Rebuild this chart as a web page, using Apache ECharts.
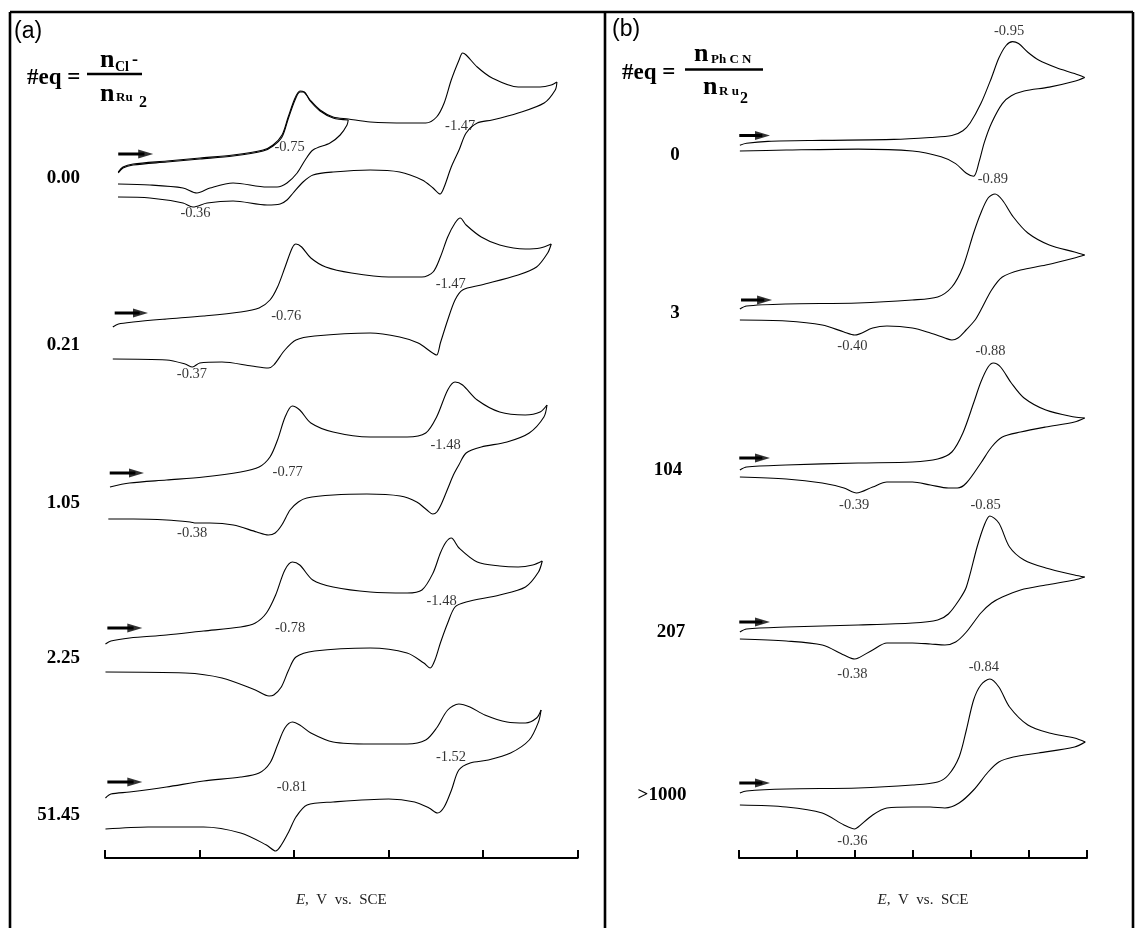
<!DOCTYPE html>
<html><head><meta charset="utf-8">
<script src="https://cdn.jsdelivr.net/npm/echarts@6/dist/echarts.min.js"></script>
<style>html,body{margin:0;padding:0;background:#fff}#c{width:1135px;height:928px}</style>
</head><body><div id="c"></div>
<script>
// ===== DATA: potential E (V vs. SCE), current i (a.u., cathodic up) =====
// Panel (a): Cl- equivalents
const a000_fwd = [[-0.056,0],[-0.076,5],[-0.119,8],[-0.262,11],[-0.402,14],[-0.542,17],[-0.669,22],[-0.711,27],[-0.749,37],[-0.775,55],[-0.804,74],[-0.825,81],[-0.842,80],[-0.868,72],[-0.910,62],[-0.965,55],[-1.029,53],[-1.122,50],[-1.278,49],[-1.357,49],[-1.403,55],[-1.435,69],[-1.465,92],[-1.498,112],[-1.513,119],[-1.528,117],[-1.575,105],[-1.638,94],[-1.748,85],[-1.841,85],[-1.888,87],[-1.912,90]];
const a000_rev = [[-1.912,90],[-1.905,82],[-1.858,69],[-1.748,59],[-1.638,52],[-1.575,49],[-1.528,39],[-1.498,22],[-1.465,5],[-1.435,-15],[-1.418,-22],[-1.388,-16],[-1.342,-8],[-1.247,0],[-1.122,2],[-0.965,0],[-0.880,-3],[-0.838,-10],[-0.796,-21],[-0.770,-28],[-0.741,-32],[-0.686,-33],[-0.542,-29],[-0.432,-31],[-0.372,-35],[-0.330,-31],[-0.190,-26],[-0.055,-25]];
const a000_fwd2 = [[-0.056,-1],[-0.076,4],[-0.119,7],[-0.262,10],[-0.402,13],[-0.542,16],[-0.669,21],[-0.711,26],[-0.749,35],[-0.775,53],[-0.804,72],[-0.825,80],[-0.842,80],[-0.868,71],[-0.910,61],[-0.965,54],[-1.029,52]];
const a000_rev2 = [[-1.029,52],[-1.024,47],[-0.995,37],[-0.952,29],[-0.880,22],[-0.847,12],[-0.813,-1],[-0.770,-11],[-0.728,-15],[-0.686,-15],[-0.542,-11],[-0.444,-16],[-0.389,-21],[-0.330,-16],[-0.190,-13],[-0.055,-12]];

const a021_fwd = [[-0.033,0],[-0.057,3],[-0.119,5],[-0.260,8],[-0.417,11],[-0.574,15],[-0.652,19],[-0.698,27],[-0.730,40],[-0.762,60],[-0.792,79],[-0.808,83],[-0.832,80],[-0.871,69],[-0.934,60],[-1.043,54],[-1.200,50],[-1.341,50],[-1.388,55],[-1.419,70],[-1.450,90],[-1.481,104],[-1.503,109],[-1.528,102],[-1.592,90],[-1.670,82],[-1.778,78],[-1.841,79],[-1.888,83]];
const a021_rev = [[-1.888,83],[-1.873,74],[-1.826,60],[-1.748,52],[-1.592,42],[-1.513,37],[-1.481,27],[-1.450,7],[-1.419,-16],[-1.403,-28],[-1.380,-25],[-1.325,-16],[-1.247,-10],[-1.122,-6],[-0.887,-9],[-0.808,-13],[-0.761,-23],[-0.714,-38],[-0.691,-41],[-0.621,-39],[-0.495,-35],[-0.401,-36],[-0.370,-40],[-0.339,-37],[-0.260,-33],[-0.033,-32]];

const a105_fwd = [[-0.021,0],[-0.104,4],[-0.260,7],[-0.417,10],[-0.574,15],[-0.652,20],[-0.698,30],[-0.730,47],[-0.762,70],[-0.792,81],[-0.824,77],[-0.871,64],[-0.965,55],[-1.122,50],[-1.278,50],[-1.357,54],[-1.403,70],[-1.450,97],[-1.481,105],[-1.513,102],[-1.575,87],[-1.670,75],[-1.778,72],[-1.841,75],[-1.870,82]];
const a105_rev = [[-1.870,82],[-1.857,70],[-1.795,54],[-1.701,45],[-1.592,40],[-1.528,34],[-1.497,22],[-1.474,12],[-1.453,0],[-1.425,-16],[-1.404,-25],[-1.387,-27],[-1.362,-23],[-1.319,-15],[-1.249,-9],[-1.108,-7],[-0.966,-8],[-0.854,-11],[-0.818,-15],[-0.783,-23],[-0.748,-38],[-0.720,-46],[-0.691,-48],[-0.642,-45],[-0.543,-38],[-0.444,-36],[-0.385,-36],[-0.360,-35],[-0.261,-33],[-0.120,-32],[-0.014,-32]];

const a225_fwd = [[-0.002,0],[-0.025,3],[-0.104,6],[-0.260,9],[-0.417,13],[-0.574,17],[-0.636,21],[-0.683,31],[-0.722,49],[-0.761,74],[-0.793,82],[-0.824,79],[-0.879,64],[-0.965,57],[-1.122,52],[-1.278,51],[-1.341,54],[-1.388,71],[-1.419,91],[-1.443,102],[-1.465,106],[-1.498,96],[-1.575,82],[-1.670,78],[-1.748,77],[-1.810,79],[-1.850,83]];
const a225_rev = [[-1.850,83],[-1.834,72],[-1.779,57],[-1.670,49],[-1.528,42],[-1.481,37],[-1.450,21],[-1.419,1],[-1.396,-16],[-1.376,-24],[-1.349,-19],[-1.278,-9],[-1.122,-4],[-0.887,-7],[-0.808,-13],[-0.777,-26],[-0.746,-43],[-0.714,-51],[-0.694,-52],[-0.636,-46],[-0.495,-34],[-0.339,-29],[-0.002,-28]];

const a5145_fwd = [[-0.002,0],[-0.025,4],[-0.104,6],[-0.260,11],[-0.417,17],[-0.574,21],[-0.652,25],[-0.698,35],[-0.730,53],[-0.761,70],[-0.793,76],[-0.824,73],[-0.871,65],[-0.965,56],[-1.122,54],[-1.278,54],[-1.357,58],[-1.403,70],[-1.450,88],[-1.497,94],[-1.544,91],[-1.607,83],[-1.701,76],[-1.779,75],[-1.826,80],[-1.845,88]];
const a5145_rev = [[-1.845,88],[-1.834,76],[-1.795,58],[-1.716,45],[-1.622,38],[-1.545,35],[-1.497,28],[-1.466,8],[-1.435,-9],[-1.407,-15],[-1.371,-10],[-1.310,-4],[-1.200,-1],[-0.965,-4],[-0.855,-7],[-0.808,-19],[-0.777,-34],[-0.746,-47],[-0.722,-53],[-0.683,-47],[-0.574,-35],[-0.417,-29],[-0.182,-29],[-0.002,-31]];

// Panel (b): PhCN equivalents
const b0_fwd = [[-0.003,0],[-0.026,2],[-0.100,4],[-0.286,5],[-0.534,6],[-0.659,8],[-0.734,10],[-0.772,15],[-0.797,23],[-0.834,43],[-0.871,70],[-0.896,90],[-0.921,103],[-0.943,107],[-0.964,105],[-0.996,96],[-1.033,88],[-1.095,80],[-1.157,74],[-1.192,70]];
const b0_rev = [[-1.192,70],[-1.157,66],[-1.070,60],[-0.983,56],[-0.939,51],[-0.908,43],[-0.871,23],[-0.846,3],[-0.828,-17],[-0.809,-32],[-0.784,-29],[-0.747,-19],[-0.697,-12],[-0.598,-6],[-0.411,-4],[-0.163,-5],[-0.003,-6]];

const b3_fwd = [[-0.003,0],[-0.026,3],[-0.162,5],[-0.410,6],[-0.597,9],[-0.685,12],[-0.734,22],[-0.772,42],[-0.809,76],[-0.834,96],[-0.859,111],[-0.883,115],[-0.908,109],[-0.946,92],[-0.996,76],[-1.070,64],[-1.157,57],[-1.192,54]];
const b3_rev = [[-1.192,54],[-1.157,51],[-1.058,44],[-0.971,39],[-0.908,32],[-0.871,19],[-0.834,-1],[-0.814,-11],[-0.783,-21],[-0.755,-29],[-0.734,-31],[-0.710,-29],[-0.660,-24],[-0.598,-19],[-0.510,-17],[-0.461,-19],[-0.399,-26],[-0.362,-23],[-0.287,-16],[-0.162,-12],[-0.003,-11]];

const b104_fwd = [[-0.003,0],[-0.026,3],[-0.162,5],[-0.411,7],[-0.598,8],[-0.685,11],[-0.734,18],[-0.772,37],[-0.809,67],[-0.834,88],[-0.859,103],[-0.877,107],[-0.902,103],[-0.939,87],[-0.983,72],[-1.058,60],[-1.157,53],[-1.192,52]];
const b104_rev = [[-1.192,52],[-1.157,48],[-1.058,43],[-0.971,38],[-0.908,33],[-0.871,23],[-0.834,7],[-0.784,-13],[-0.753,-18],[-0.722,-18],[-0.660,-15],[-0.598,-12],[-0.510,-12],[-0.461,-17],[-0.405,-23],[-0.362,-18],[-0.287,-13],[-0.163,-9],[-0.003,-7]];

const b207_fwd = [[-0.003,0],[-0.026,3],[-0.163,5],[-0.411,7],[-0.598,9],[-0.685,12],[-0.722,18],[-0.759,32],[-0.784,45],[-0.821,85],[-0.846,107],[-0.865,116],[-0.896,109],[-0.933,85],[-0.983,72],[-1.058,64],[-1.157,57],[-1.192,55]];
const b207_rev = [[-1.192,55],[-1.157,52],[-1.058,47],[-0.971,42],[-0.908,35],[-0.871,29],[-0.834,19],[-0.784,0],[-0.747,-10],[-0.710,-13],[-0.660,-12],[-0.598,-11],[-0.510,-11],[-0.461,-18],[-0.411,-26],[-0.399,-27],[-0.362,-23],[-0.287,-13],[-0.163,-9],[-0.003,-7]];

const b1000_fwd = [[-0.003,0],[-0.026,2],[-0.163,4],[-0.411,5],[-0.598,8],[-0.685,11],[-0.722,18],[-0.759,36],[-0.784,63],[-0.809,93],[-0.834,108],[-0.865,114],[-0.896,106],[-0.933,86],[-0.996,68],[-1.070,60],[-1.157,55],[-1.194,51]];
const b1000_rev = [[-1.194,51],[-1.157,46],[-1.033,40],[-0.946,36],[-0.896,31],[-0.859,21],[-0.809,3],[-0.759,-10],[-0.710,-15],[-0.660,-14],[-0.598,-14],[-0.510,-15],[-0.461,-22],[-0.411,-34],[-0.399,-36],[-0.362,-32],[-0.287,-20],[-0.163,-14],[-0.003,-12]];

// Peak-potential annotations [E, i, text]
const a000_lbl = [[-0.783,24,'-0.75'],[-1.505,45,'-1.47'],[-0.385,-42,'-0.36']];
const a021_lbl = [[-0.769,10,'-0.76'],[-1.465,42,'-1.47'],[-0.370,-48,'-0.37']];
const a105_lbl = [[-0.775,14,'-0.77'],[-1.443,41,'-1.48'],[-0.371,-47,'-0.38']];
const a225_lbl = [[-0.785,15,'-0.78'],[-1.426,42,'-1.48']];
const a5145_lbl = [[-0.793,10,'-0.81'],[-1.466,40,'-1.52']];
const b0_lbl = [[-0.933,117,'-0.95']];
const b3_lbl = [[-0.877,129,'-0.89'],[-0.393,-38,'-0.40']];
const b104_lbl = [[-0.869,118,'-0.88'],[-0.399,-36,'-0.39']];
const b207_lbl = [[-0.852,126,'-0.85'],[-0.393,-43,'-0.38']];
const b1000_lbl = [[-0.846,125,'-0.84'],[-0.393,-49,'-0.36']];

// Scan-direction arrows [E start, E tip, i]
const arrowsA = [[-0.056,-0.204,18],[-0.041,-0.182,14],[-0.020,-0.165,14],[-0.010,-0.158,16],[-0.010,-0.158,16]];
const arrowsB = [[-0.001,-0.107,10],[-0.007,-0.114,9],[-0.001,-0.107,12],[-0.001,-0.107,10],[-0.001,-0.107,10]];

// Equivalents (trace names)
const eqA = ['0.00','0.21','1.05','2.25','51.45'];
const eqB = ['0','3','104','207','>1000'];

// Axis ticks
const ticksA = {min:-2.0, max:0, interval:0.4};
const ticksB = {min:-1.2, max:0, interval:0.2};

// ===== LAYOUT =====
const YMIN = -70, YMAX = 150;
const panelA = {left:105, width:472.7, axisY:858};
const panelB = {left:739, width:348, axisY:858};
const baseA = [172, 327, 487, 644, 798];
const baseB = [143, 309, 470, 632, 793];
const nameYA = [178, 345, 503, 658, 815];
const nameXA = [80, 80, 80, 80, 80];
const nameYB = [155, 313, 470, 632, 795];
const nameXB = [675, 675, 668, 671, 662];

const SERIF = '"Liberation Serif","Times New Roman",serif';
const SANS = '"Liberation Sans",Arial,sans-serif';
const INK = '#000';
const HEAD = 'path://M0,0 L15,4.5 L0,9 Z';

const tracesA = [
  {lines:[a000_fwd2,a000_rev2,a000_fwd,a000_rev], lbl:a000_lbl},
  {lines:[a021_fwd,a021_rev], lbl:a021_lbl},
  {lines:[a105_fwd,a105_rev], lbl:a105_lbl},
  {lines:[a225_fwd,a225_rev], lbl:a225_lbl},
  {lines:[a5145_fwd,a5145_rev], lbl:a5145_lbl}
];
const tracesB = [
  {lines:[b0_fwd,b0_rev], lbl:b0_lbl},
  {lines:[b3_fwd,b3_rev], lbl:b3_lbl},
  {lines:[b104_fwd,b104_rev], lbl:b104_lbl},
  {lines:[b207_fwd,b207_rev], lbl:b207_lbl},
  {lines:[b1000_fwd,b1000_rev], lbl:b1000_lbl}
];

const grid = [], xAxis = [], yAxis = [], series = [];
function addTrace(tr, base, panel, ticks, arrow) {
  const k = grid.length;
  grid.push({left:panel.left, width:panel.width, top:base - YMAX, height:YMAX - YMIN});
  xAxis.push({type:'value', gridIndex:k, min:ticks.min, max:ticks.max, inverse:true, show:false});
  yAxis.push({type:'value', gridIndex:k, min:YMIN, max:YMAX, show:false});
  tr.lines.forEach(arr => {
    series.push({type:'line', xAxisIndex:k, yAxisIndex:k, data:arr, smooth:0.3, symbol:'none',
      lineStyle:{color:INK, width:1.1}, silent:true, animation:false, clip:false});
  });
  // arrow shaft + head
  series.push({type:'line', xAxisIndex:k, yAxisIndex:k, symbol:'none', silent:true, animation:false,
    data:[[arrow[0],arrow[2]],[arrow[0] + (arrow[1]-arrow[0])*0.75, arrow[2]]],
    lineStyle:{color:INK, width:3}});
  series.push({type:'scatter', xAxisIndex:k, yAxisIndex:k, silent:true, animation:false, clip:false,
    symbol:HEAD, symbolSize:[15,9], symbolOffset:[-7.5,0], itemStyle:{color:INK},
    data:[[arrow[1], arrow[2]]]});
  // peak labels
  series.push({type:'scatter', xAxisIndex:k, yAxisIndex:k, symbol:'circle', symbolSize:1,
    itemStyle:{color:'rgba(255,255,255,0)'}, silent:true, animation:false, clip:false,
    data: tr.lbl.map(l => ({value:[l[0], l[1]], name:l[2]})),
    label:{show:true, position:[0,0], align:'center', verticalAlign:'middle', formatter:'{b}',
      fontFamily:SERIF, fontSize:14.5, color:'#000', textBorderWidth:0}});
}
tracesA.forEach((tr, n) => addTrace(tr, baseA[n], panelA, ticksA, arrowsA[n]));
tracesB.forEach((tr, n) => addTrace(tr, baseB[n], panelB, ticksB, arrowsB[n]));

function addAxis(panel, ticks, padLeft) {
  const k = grid.length;
  grid.push({left:panel.left, width:panel.width, top:100, height:panel.axisY - 100});
  xAxis.push({type:'value', gridIndex:k, min:ticks.min, max:ticks.max, interval:ticks.interval, inverse:true,
    axisLine:{show:true, lineStyle:{color:INK, width:2}},
    axisTick:{show:true, inside:true, length:8, lineStyle:{color:INK, width:2}},
    axisLabel:{show:false}, splitLine:{show:false},
    name:'{i|E},  V  vs.  SCE', nameLocation:'middle', nameGap:35,
    nameTextStyle:{fontFamily:SERIF, fontSize:15, color:'#222', padding:[0,0,0,padLeft],
      rich:{i:{fontFamily:SERIF, fontSize:15, fontStyle:'italic', color:'#222'}}}});
  yAxis.push({type:'value', gridIndex:k, show:false});
}
addAxis(panelA, ticksA, 0);
addAxis(panelB, ticksB, 20);

const graphic = [];
function line(x1,y1,x2,y2,w){ graphic.push({type:'line', silent:true, shape:{x1,y1,x2,y2}, style:{stroke:INK, lineWidth:w}}); }
function text(t,x,y,font,align){ graphic.push({type:'text', silent:true, x, y, style:{text:t, font, fill:INK, align:align||'left', verticalAlign:'middle', textAlign:align||'left', textVerticalAlign:'middle'}}); }
// frame
line(10,12,1133,12,2.6); line(10,12,10,928,2.6); line(605,12,605,928,2.6); line(1133,12,1133,928,2.6);
// panel letters
text('(a)',14,32,'23px '+SANS); text('(b)',612,30,'23px '+SANS);
// fraction (a)
text('#eq =',27,78,'bold 23px '+SERIF);
line(87,74,142,74,2.4);
text('n',100,60,'bold 26px '+SERIF); text('Cl',115,67,'bold 14px '+SERIF); text('-',132,60,'bold 18px '+SERIF);
text('n',100,94,'bold 26px '+SERIF); text('Ru',116,98,'bold 13px '+SERIF); text('2',139,103,'bold 16px '+SERIF);
// fraction (b)
text('#eq =',622,73,'bold 23px '+SERIF);
line(685,69.5,763,69.5,2.4);
text('n',694,54,'bold 26px '+SERIF); text('Ph C N',711,60,'bold 13px '+SERIF);
text('n',703,87,'bold 26px '+SERIF); text('R u',719,92,'bold 13px '+SERIF); text('2',740,99,'bold 16px '+SERIF);
// trace names
eqA.forEach((t,n) => text(t, nameXA[n], nameYA[n], 'bold 19px '+SERIF, 'right'));
eqB.forEach((t,n) => text(t, nameXB[n], nameYB[n], 'bold 19px '+SERIF, 'center'));

const chart = echarts.init(document.getElementById('c'), null, {renderer:'canvas'});
chart.setOption({animation:false, backgroundColor:'#fff', grid, xAxis, yAxis, series, graphic});
</script></body></html>
